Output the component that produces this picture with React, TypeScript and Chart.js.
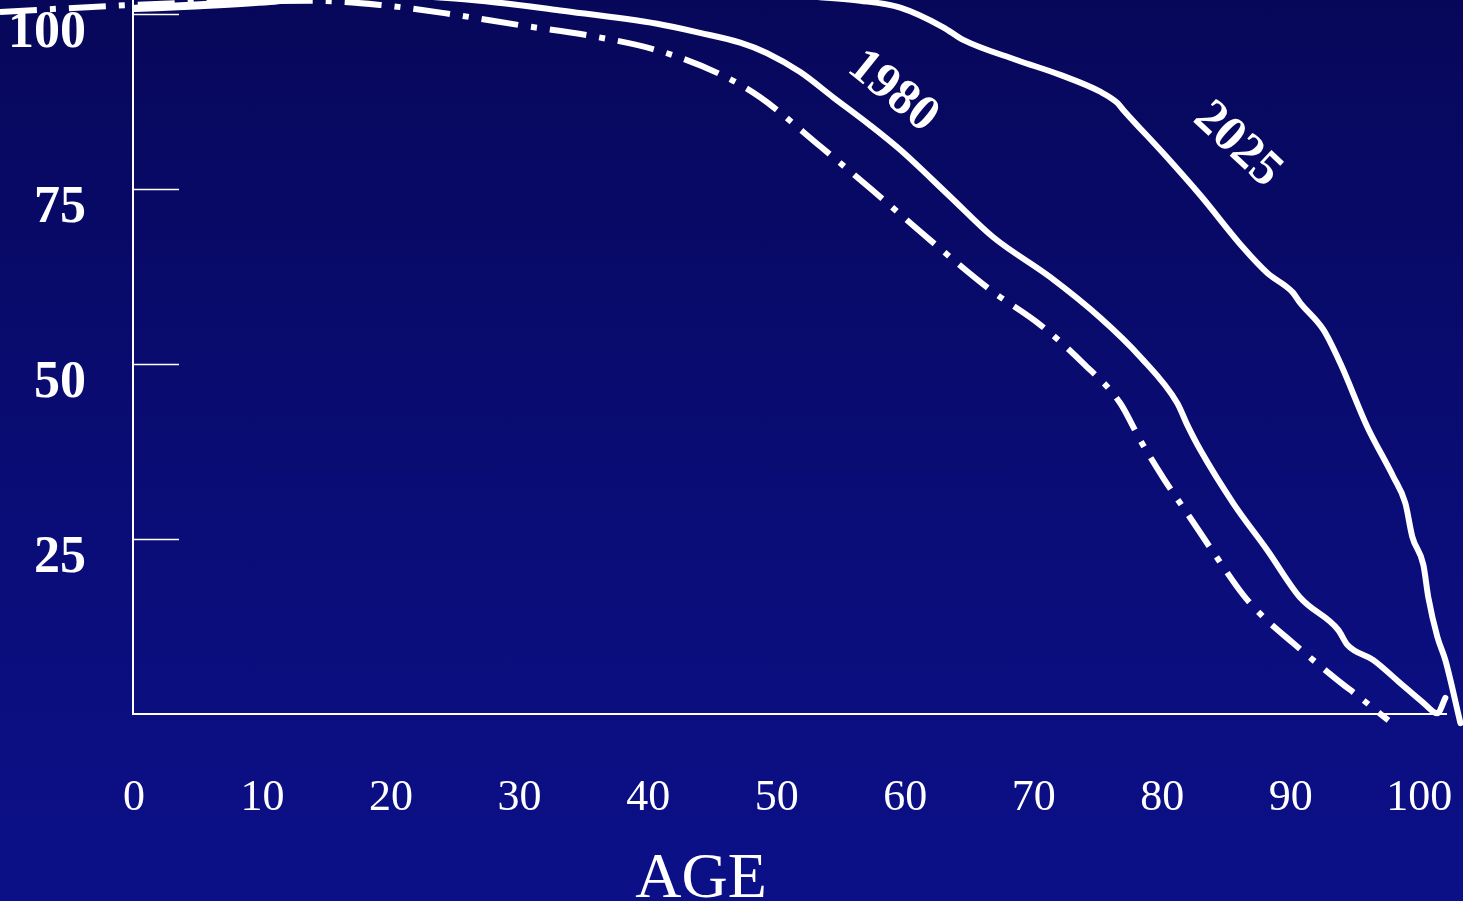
import React, { useEffect, useRef } from "react";
import { Chart, registerables } from "chart.js";

Chart.register(...registerables);

// Survival curves: percent surviving by age
const AGES_EARLY = [-10.35, 0, 5.99, 13.77, 19.22, 24.67, 30.12, 35.56, 41.01, 45.68, 48.79, 53.46, 57.35, 62.02, 66.69, 70.58, 73.93, 76.81, 78.37, 80.16, 82.26, 84.2, 86.38, 87.7, 90.27, 93.54, 95.49, 97.67];
const SURV_EARLY = [100.3, 101.3, 101.7, 101.9, 101.3, 100.0, 98.4, 96.9, 94.7, 91.4, 88.1, 81.1, 75.1, 67.7, 60.6, 55.6, 50.1, 44.4, 39.1, 33.7, 28.0, 22.7, 17.0, 14.3, 10.1, 5.1, 2.3, -0.9];

const AGES_1980 = [0.16, 5.21, 10.66, 15.33, 20.78, 27.0, 33.23, 40.78, 44.12, 47.24, 49.34, 51.91, 54.47, 57.35, 59.69, 63.58, 66.93, 71.36, 75.25, 78.37, 81.25, 82.02, 83.04, 85.6, 88.25, 90.82, 93.77, 94.47, 96.5, 98.6, 100.39, 101.48, 102.1];
const SURV_1980 = [100.7, 101.1, 101.7, 102.6, 102.6, 101.9, 100.5, 98.6, 97.3, 95.9, 94.4, 91.7, 88.1, 84.1, 80.6, 73.9, 68.1, 62.4, 56.6, 51.0, 44.4, 41.3, 37.7, 30.1, 23.4, 16.6, 12.0, 9.9, 7.7, 4.4, 1.6, 0.1, 2.3];

const AGES_2025 = [0.16, 5.21, 10.66, 16.89, 28.56, 44.12, 53.46, 56.58, 59.69, 63.04, 64.59, 68.79, 72.14, 75.25, 76.58, 77.04, 80.16, 83.04, 86.38, 88.25, 90.19, 90.82, 92.61, 93.93, 96.03, 98.05, 98.99, 99.53, 100.39, 100.78, 101.48, 102.1, 103.27];
const SURV_2025 = [100.9, 101.4, 102.0, 102.9, 103.4, 103.4, 102.4, 101.9, 100.9, 98.1, 96.3, 93.4, 91.3, 88.9, 87.3, 86.3, 80.1, 74.1, 66.6, 63.0, 60.3, 58.7, 54.9, 50.1, 41.0, 33.9, 30.1, 25.3, 21.3, 16.6, 11.0, 7.7, -1.3];

const X_TICKS = [0, 10, 20, 30, 40, 50, 60, 70, 80, 90, 100];
const Y_TICKS = [25, 50, 75, 100];

const CURVE_LABELS = ["1980", "2025"];
const LABEL_AGES = [59.1, 85.9];
const LABEL_VALUES = [88.9, 81.3];
const LABEL_ANGLES = [39, 43];

const toPoints = (xs: number[], ys: number[]) => xs.map((x, i) => ({ x, y: ys[i] }));

const zeroPadding = (scale: any) => {
  scale.paddingTop = 0;
  scale.paddingBottom = 0;
  scale.paddingLeft = 0;
  scale.paddingRight = 0;
};

const decorations = {
  id: "decorations",
  afterDatasetsDraw(chart: any) {
    const { ctx } = chart;
    const xs = chart.scales.x;
    const ys = chart.scales.y;
    ctx.save();
    ctx.strokeStyle = "#ffffff";
    ctx.lineWidth = 1.5;
    const x0 = xs.getPixelForValue(0);
    Y_TICKS.forEach((v) => {
      const py = Math.round(ys.getPixelForValue(v)) + 0.5;
      ctx.beginPath();
      ctx.moveTo(x0, py);
      ctx.lineTo(x0 + 46, py);
      ctx.stroke();
    });
    ctx.fillStyle = "#ffffff";
    ctx.font = 'bold 50px "Liberation Serif"';
    ctx.textAlign = "center";
    ctx.textBaseline = "middle";
    CURVE_LABELS.forEach((t, i) => {
      ctx.save();
      ctx.translate(xs.getPixelForValue(LABEL_AGES[i]), ys.getPixelForValue(LABEL_VALUES[i]));
      ctx.rotate((LABEL_ANGLES[i] * Math.PI) / 180);
      ctx.fillText(t, 0, 0);
      ctx.restore();
    });
    ctx.restore();
  },
};

export default function App() {
  const canvasRef = useRef<HTMLCanvasElement>(null);

  useEffect(() => {
    const common = {
      borderColor: "#ffffff",
      borderWidth: 6,
      pointRadius: 0,
      fill: false,
      clip: false as const,
      cubicInterpolationMode: "monotone" as const,
      borderJoinStyle: "round" as const,
    };
    const chart = new Chart(canvasRef.current!, {
      type: "line",
      data: {
        datasets: [
          {
            ...common,
            label: "early",
            data: toPoints(AGES_EARLY, SURV_EARLY),
            borderDash: [37, 13, 6, 13],
            borderCapStyle: "butt",
          },
          { ...common, label: "1980", data: toPoints(AGES_1980, SURV_1980), borderCapStyle: "round" },
          { ...common, label: "2025", data: toPoints(AGES_2025, SURV_2025), borderCapStyle: "round" },
        ],
      },
      options: {
        animation: false,
        responsive: true,
        maintainAspectRatio: false,
        layout: { padding: { left: 0, right: 17, top: 0, bottom: 0 } },
        plugins: { legend: { display: false }, tooltip: { enabled: false } },
        scales: {
          x: {
            type: "linear",
            min: 0,
            max: 102.15,
            afterBuildTicks: (scale: any) => {
              scale.ticks = X_TICKS.map((v) => ({ value: v }));
            },
            afterFit: (scale: any) => {
              scale.height = 187;
              zeroPadding(scale);
            },
            grid: { display: false, drawTicks: false },
            border: { display: true, color: "#ffffff", width: 2 },
            ticks: {
              color: "#ffffff",
              font: { family: '"Liberation Serif"', size: 44 },
              padding: 58,
              maxRotation: 0,
              autoSkip: false,
              labelOffset: 1,
              callback: (v: any) => String(v),
            },
          },
          y: {
            type: "linear",
            min: 0,
            max: 102,
            afterBuildTicks: (scale: any) => {
              scale.ticks = Y_TICKS.map((v) => ({ value: v }));
            },
            afterFit: (scale: any) => {
              scale.width = 133;
              zeroPadding(scale);
            },
            grid: { display: false, drawTicks: false },
            border: { display: true, color: "#ffffff", width: 2 },
            ticks: {
              color: "#ffffff",
              font: { family: '"Liberation Serif"', size: 52, weight: "bold" },
              padding: 47,
              labelOffset: 20,
              callback: (v: any) => String(v),
            },
          },
        },
      },
      plugins: [decorations],
    });
    return () => chart.destroy();
  }, []);

  return (
    <div
      style={{
        position: "fixed",
        left: 0,
        top: 0,
        width: "100vw",
        height: "100vh",
        overflow: "hidden",
        background: "linear-gradient(to bottom, #07075a 0%, #0a0d78 60%, #0c1088 100%)",
      }}
    >
      <canvas ref={canvasRef} />
      <div
        style={{
          position: "absolute",
          left: 401,
          width: 600,
          top: 844,
          textAlign: "center",
          color: "#ffffff",
          fontFamily: '"Liberation Serif"',
          fontSize: 64,
          lineHeight: 1,
        }}
      >
        AGE
      </div>
    </div>
  );
}
